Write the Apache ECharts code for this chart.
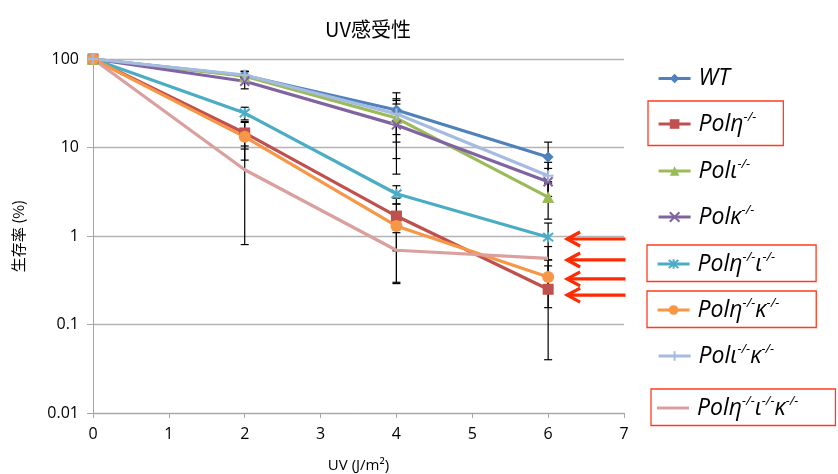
<!DOCTYPE html>
<html lang="ja">
<head>
    <meta charset="UTF-8">
    <title>UV感受性</title>
    <script src="https://cdn.jsdelivr.net/npm/echarts@6.0.0/dist/echarts.min.js"></script>
    <style>
        * { margin: 0; padding: 0; box-sizing: border-box; }
        html, body { width: 100%; height: 100%; background: #fff; overflow: hidden; }
        #chart { width: 838px; height: 474px; }
    </style>
</head>
<body>
    <div id="chart"></div>
    <script>
        // UV線量 (J/m2)
        const doses = [0, 2, 4, 6];

        // 生存率 (%)
        const survWT     = [100, 65, 26.5, 7.8];
        const survEta    = [100, 14.6, 1.68, 0.25];
        const survIota   = [100, 64, 21.5, 2.75];
        const survKappa  = [100, 56, 18, 4.1];
        const survEtaIota   = [100, 24.5, 3.0, 0.97];
        const survEtaKappa  = [100, 13.2, 1.3, 0.345];
        const survIotaKappa = [100, 66, 24, 4.8];
        const survTriple    = [100, 5.6, 0.69, 0.56];

        // 誤差 (±)
        const errWT     = [0, 8, 15, 3.7];
        const errEta    = [0, 5, 1.0, 0.21];
        const errIota   = [0, 8, 14, 1.2];
        const errKappa  = [0, 10, 13, 1.7];
        const errEtaIota   = [0, 4, 0.7, 0.43];
        const errEtaKappa  = [0, 6, 1.0, 0.19];
        const errIotaKappa = [0, 6, 10, 2];
        const errTriple    = [0, 4.8, 0.4, 0.2];

        // 矢印で示す値 (x = 6 の右側)
        const arrowValues = [0.925, 0.536, 0.327, 0.215];
        const arrowFrom = 6.25;
        const arrowTo = 7.02;

        const yTicks = [0.01, 0.1, 1, 10, 100];
        const xTicks = [0, 1, 2, 3, 4, 5, 6, 7];

        const xPath = 'path://M0,0L10,10M10,0L0,10';
        const starPath = 'path://M0,0L10,10M10,0L0,10M5,-1L5,11';
        const plusPath = 'path://M5,0L5,10M0,5L10,5';

        const seriesDefs = [
            { name: 'WT', data: survWT, err: errWT, color: '#4f81bd', symbol: 'diamond', size: 11 },
            { name: 'Polη-/-', data: survEta, err: errEta, color: '#c0504d', symbol: 'rect', size: 11, box: true },
            { name: 'Polι-/-', data: survIota, err: errIota, color: '#9bbb59', symbol: 'triangle', size: 12 },
            { name: 'Polκ-/-', data: survKappa, err: errKappa, color: '#8064a2', symbol: xPath, size: 9, stroke: true },
            { name: 'Polη-/-ι-/-', data: survEtaIota, err: errEtaIota, color: '#4bacc6', symbol: starPath, size: 10, stroke: true, box: true },
            { name: 'Polη-/-κ-/-', data: survEtaKappa, err: errEtaKappa, color: '#f79646', symbol: 'circle', size: 12, box: true },
            { name: 'Polι-/-κ-/-', data: survIotaKappa, err: errIotaKappa, color: '#a5bbdf', symbol: plusPath, size: 11, stroke: true },
            { name: 'Polη-/-ι-/-κ-/-', data: survTriple, err: errTriple, color: '#daa09e', symbol: 'none', size: 0, box: true }
        ];

        // 凡例の中心 y 位置
        const legendCenters = [80, 124, 171, 217, 264, 310, 356, 408];
        const legendPad = [[8, 20, 8, 9], [10, 27, 10, 9], [8, 20, 8, 9], [8, 20, 8, 9],
                           [6, 41, 6, 9], [6, 37, 6, 9], [8, 20, 8, 9], [6, 37, 6, 6]];
        const legendLeft = [648, 648, 648, 648, 647, 647, 648, 651];

        function richName(name) {
            const parts = name.split('-/-');
            let out = '';
            for (let i = 0; i < parts.length; i++) {
                if (parts[i]) out += '{b|' + parts[i] + '}';
                if (i < parts.length - 1) out += '{s|-/-}';
            }
            return out;
        }

        const lineSeries = seriesDefs.map(d => ({
            name: d.name,
            type: 'line',
            z: 3,
            data: doses.map((x, i) => [x, d.data[i]]),
            symbol: d.symbol,
            symbolSize: d.size,
            showSymbol: d.symbol !== 'none',
            lineStyle: { color: d.color, width: 3.2 },
            itemStyle: d.stroke
                ? { color: d.color, borderColor: d.color, borderWidth: 2 }
                : { color: d.color },
            emphasis: { disabled: true },
            animation: false
        }));

        const errData = [];
        seriesDefs.forEach(d => {
            doses.forEach((x, i) => {
                if (d.err[i] > 0) errData.push([x, d.data[i], d.err[i]]);
            });
        });

        const errSeries = {
            type: 'custom',
            name: 'err',
            z: 2,
            silent: true,
            animation: false,
            data: errData,
            renderItem: function (params, api) {
                const x = api.value(0), v = api.value(1), e = api.value(2);
                const top = api.coord([x, v + e]);
                const bot = api.coord([x, Math.max(v - e, 0.0105)]);
                const cap = 4;
                const st = { stroke: '#000', lineWidth: 1.2 };
                return {
                    type: 'group',
                    children: [
                        { type: 'line', shape: { x1: top[0], y1: top[1], x2: bot[0], y2: bot[1] }, style: st },
                        { type: 'line', shape: { x1: top[0] - cap, y1: top[1], x2: top[0] + cap, y2: top[1] }, style: st },
                        { type: 'line', shape: { x1: bot[0] - cap, y1: bot[1], x2: bot[0] + cap, y2: bot[1] }, style: st }
                    ]
                };
            }
        };

        const arrowSeries = {
            type: 'custom',
            name: 'arrows',
            z: 4,
            silent: true,
            clip: false,
            animation: false,
            data: arrowValues.map(v => [arrowFrom, v, arrowTo]),
            renderItem: function (params, api) {
                const tip = api.coord([api.value(0), api.value(1)]);
                const tail = api.coord([api.value(2), api.value(1)]);
                const st = { stroke: '#ff2a00', lineWidth: 3.2, fill: null };
                return {
                    type: 'group',
                    children: [
                        { type: 'line', shape: { x1: tip[0] + 1, y1: tip[1], x2: tail[0], y2: tail[1] }, style: st },
                        { type: 'polyline', shape: { points: [[tip[0] + 13, tip[1] - 7], [tip[0], tip[1]], [tip[0] + 13, tip[1] + 7]] }, style: st }
                    ]
                };
            }
        };

        const legends = seriesDefs.map((d, i) => ({
            data: d.symbol === 'none' ? [{ name: d.name, icon: 'rect' }] : [d.name],
            orient: 'vertical',
            left: legendLeft[i],
            top: legendCenters[i] - 13 - legendPad[i][0],
            padding: legendPad[i],
            borderColor: d.box ? '#ff3b1f' : 'transparent',
            borderWidth: d.box ? 1.3 : 0,
            itemWidth: 32,
            itemHeight: d.symbol === 'none' ? 3 : 12,
            itemGap: 0,
            selectedMode: false,
            formatter: richName,
            lineStyle: { width: 3.2 },
            textStyle: {
                padding: [0, 0, 0, 3],
                rich: {
                    b: { fontFamily: 'Open Sans', fontStyle: 'italic', fontSize: 23, color: '#000', lineHeight: 26 },
                    s: { fontFamily: 'Open Sans', fontStyle: 'italic', fontSize: 13, color: '#000', lineHeight: 13, verticalAlign: 'top', padding: [0, 0, 11, 0] }
                }
            }
        }));

        const chart = echarts.init(document.getElementById('chart'), null, { renderer: 'canvas' });
        chart.setOption({
            animation: false,
            backgroundColor: '#fff',
            title: {
                text: 'UV感受性',
                left: 363,
                top: 14,
                textAlign: 'center',
                textStyle: { fontFamily: 'Noto Sans CJK JP', fontSize: 20, fontWeight: 'normal', color: '#000' }
            },
            legend: legends,
            grid: { left: 93, right: 214, top: 59, bottom: 61, containLabel: false, outerBoundsMode: 'none' },
            xAxis: {
                type: 'value',
                min: xTicks[0],
                max: xTicks[xTicks.length - 1],
                interval: 1,
                name: 'UV (J/m²)',
                nameLocation: 'middle',
                nameGap: 45,
                nameTextStyle: { fontFamily: 'Open Sans', fontSize: 15, color: '#000' },
                axisLine: { show: true, lineStyle: { color: '#a6a6a6', width: 1 } },
                axisTick: { show: true, inside: false, length: 5, lineStyle: { color: '#a6a6a6' } },
                axisLabel: { fontFamily: 'Open Sans', fontSize: 16, color: '#000', margin: 13 },
                splitLine: { show: false }
            },
            yAxis: {
                type: 'log',
                logBase: 10,
                min: yTicks[0],
                max: yTicks[yTicks.length - 1],
                name: '生存率 (%)',
                nameLocation: 'middle',
                nameRotate: 90,
                nameGap: 67,
                nameTextStyle: { fontFamily: 'Noto Sans CJK JP', fontSize: 15, color: '#000' },
                axisLine: { show: true, lineStyle: { color: '#a6a6a6', width: 1 } },
                axisTick: { show: true, length: 6, lineStyle: { color: '#a6a6a6' } },
                axisLabel: {
                    fontFamily: 'Open Sans', fontSize: 16, color: '#000', margin: 14,
                    formatter: v => String(parseFloat(Number(v).toPrecision(3)))
                },
                splitLine: { show: true, lineStyle: { color: '#b3b3b3', width: 1.3 } }
            },
            series: [errSeries].concat(lineSeries, [arrowSeries])
        });
    </script>
</body>
</html>
